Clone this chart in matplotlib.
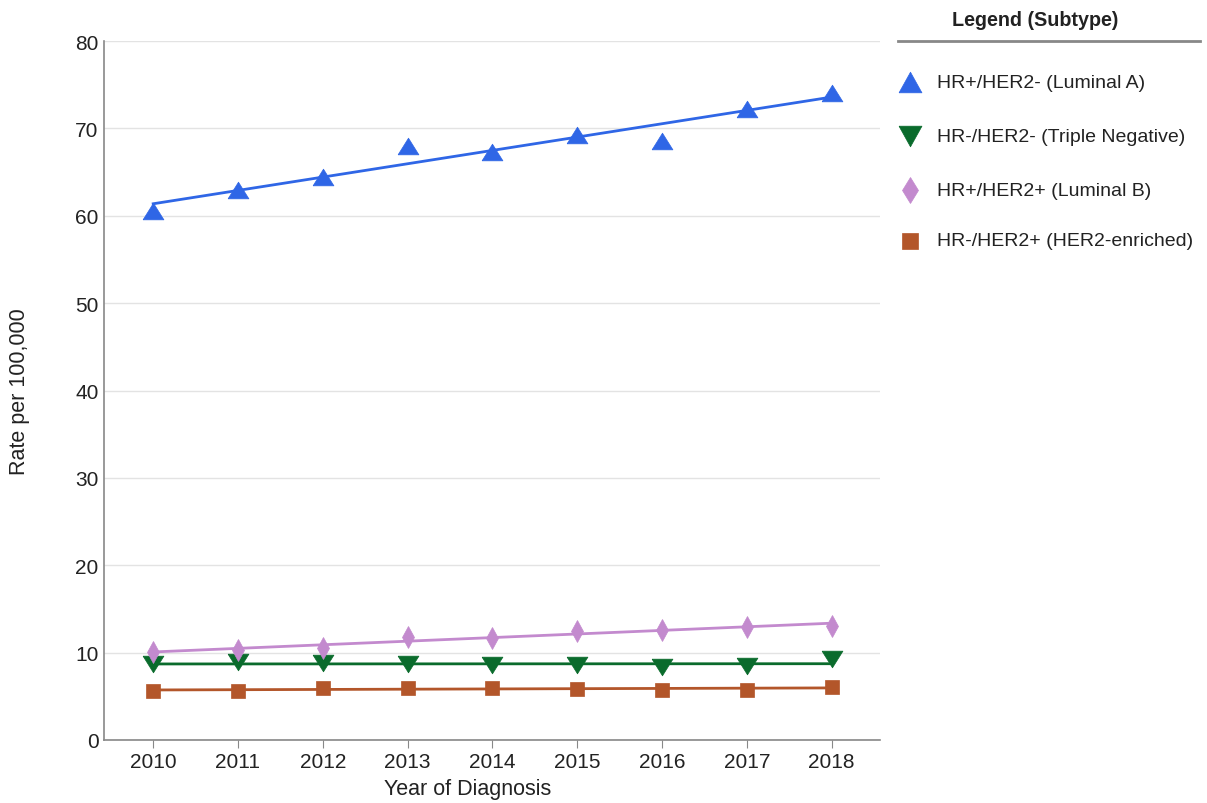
import numpy as np
import matplotlib
matplotlib.use("Agg")
import matplotlib.pyplot as plt
from matplotlib.lines import Line2D

plt.rcParams['font.family'] = ['Liberation Sans', 'DejaVu Sans']

years = [2010, 2011, 2012, 2013, 2014, 2015, 2016, 2017, 2018]
luminal_a = [60.5, 63.0, 64.4, 68.0, 67.3, 69.2, 68.6, 72.2, 74.1]
triple_neg = [8.7, 8.9, 8.8, 8.7, 8.6, 8.6, 8.35, 8.5, 9.3]
luminal_b = [10.1, 10.3, 10.5, 11.8, 11.7, 12.5, 12.6, 12.9, 13.1]
her2_enr = [5.6, 5.6, 6.0, 6.0, 6.0, 5.8, 5.75, 5.75, 6.1]

labels = ["HR+/HER2- (Luminal A)", "HR-/HER2- (Triple Negative)",
          "HR+/HER2+ (Luminal B)", "HR-/HER2+ (HER2-enriched)"]
colors = ["#2f66e6", "#0a6b2c", "#c38ace", "#b3562a"]

tri_up = [(-1, -0.8), (1, -0.8), (0, 0.8), (-1, -0.8)]
tri_dn = [(-1, 0.8), (1, 0.8), (0, -0.8), (-1, 0.8)]
markers = [tri_up, tri_dn, "d", "s"]
msizes = [15, 15, 11, 9.5]
leg_markers = [[(-1, -0.9), (1, -0.9), (0, 0.9), (-1, -0.9)],
               [(-1, 0.9), (1, 0.9), (0, -0.9), (-1, 0.9)], "d", "s"]
leg_msizes = [16.5, 16.5, 13, 11.5]
series = [luminal_a, triple_neg, luminal_b, her2_enr]

fig = plt.figure(figsize=(12.07, 8.04), dpi=100)
W, H = 1207, 804
ax = fig.add_axes([104 / W, (804 - 741) / H, (880 - 104) / W, (741 - 42) / H])

x = np.array(years, dtype=float)
for vals, c, m, ms in zip(series, colors, markers, msizes):
    y = np.array(vals)
    k, b = np.polyfit(x, y, 1)
    ax.plot(x, k * x + b, color=c, lw=2, zorder=3)
    ax.plot(x, y, linestyle='none', marker=m, ms=ms, color=c,
            markeredgecolor=c, markeredgewidth=0.5, zorder=4)

ax.set_xlim(2009.42, 2018.57)
ax.set_ylim(0, 80)
ax.set_yticks(range(0, 81, 10))
ax.set_xticks(years)
ax.grid(axis='y', color='#e3e3e3', lw=1)
ax.set_axisbelow(True)
for s in ['top', 'right']:
    ax.spines[s].set_visible(False)
ax.spines['left'].set_color('#888888')
ax.spines['bottom'].set_color('#888888')
ax.spines['left'].set_linewidth(1.2)
ax.spines['bottom'].set_linewidth(1.2)
ax.tick_params(axis='y', length=0, labelsize=15, colors='#222222', pad=4)
ax.tick_params(axis='x', length=6, color='#888888', labelsize=15,
               labelcolor='#222222', pad=3)
fig.text(468 / W, 1 - 790 / H, "Year of Diagnosis", fontsize=15.5,
         ha='center', va='center', color='#222222')
fig.text(20 / W, 1 - 392 / H, "Rate per 100,000", fontsize=15.5, rotation=90,
         ha='center', va='center', color='#222222')

# Legend
fig.text(1035 / W, 1 - 20 / H, "Legend (Subtype)", fontsize=14.2, fontweight='bold',
         ha='center', va='center', color='#222222')
fig.add_artist(Line2D([898 / W, 1200 / W], [1 - 42 / H, 1 - 42 / H],
                      color='#888888', lw=2, transform=fig.transFigure))
ys = [83, 137, 191, 242]
for lab, c, m, ms, yy in zip(labels, colors, leg_markers, leg_msizes, ys):
    fig.add_artist(Line2D([910 / W], [1 - yy / H], marker=m, ms=ms, color=c,
                          markeredgecolor=c, markeredgewidth=0.5,
                          linestyle='none', transform=fig.transFigure))
    fig.text(937 / W, 1 - yy / H, lab, fontsize=14, ha='left', va='center',
             color='#222222')

fig.savefig("out.png", dpi=100)
